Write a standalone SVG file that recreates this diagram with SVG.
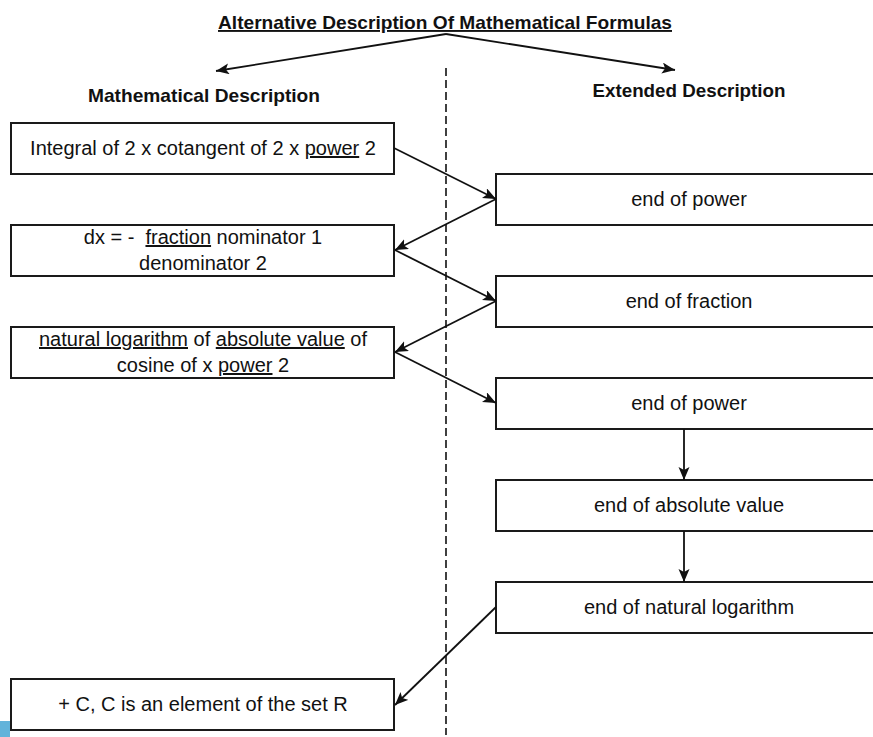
<svg xmlns="http://www.w3.org/2000/svg" width="873" height="737" viewBox="0 0 873 737">
  <style>
    .box { fill: #ffffff; stroke: #1a1a1a; stroke-width: 2; }
    .t { font-family: "Liberation Sans", Arial, sans-serif; font-size: 20px; fill: #111111; text-anchor: middle; }
    .h { font-family: "Liberation Sans", Arial, sans-serif; font-size: 19px; font-weight: bold; fill: #111111; text-anchor: middle; }
    .u { text-decoration: underline; }
    .conn { stroke: #111111; stroke-width: 1.8; fill: none; marker-end: url(#arrow); }
    .divider { stroke: #111111; stroke-width: 1.6; stroke-dasharray: 8 4; fill: none; }
  </style>
  <defs>
    <marker id="arrow" markerUnits="userSpaceOnUse" markerWidth="14" markerHeight="12" refX="13" refY="5.5" orient="auto">
      <path d="M0,0 L13,5.5 L0,11 L3,5.5 z" fill="#111111"/>
    </marker>
  </defs>
  <rect x="0" y="0" width="873" height="737" fill="#ffffff"/>

  <g id="title">
    <text class="h u" x="445" y="29" textLength="454" lengthAdjust="spacingAndGlyphs">Alternative Description Of Mathematical Formulas</text>
  </g>
  <g id="heading-math">
    <text class="h" x="204" y="102" textLength="232" lengthAdjust="spacingAndGlyphs">Mathematical Description</text>
  </g>
  <g id="heading-extended">
    <text class="h" x="689" y="97" textLength="193" lengthAdjust="spacingAndGlyphs">Extended Description</text>
  </g>

  <line id="divider" class="divider" x1="446" y1="68" x2="446" y2="735"/>

  <g id="m1">
    <rect class="box" x="11" y="123" width="383" height="51"/>
    <text class="t" x="203" y="155">Integral of 2 x cotangent of 2 x <tspan class="u">power</tspan> 2</text>
  </g>
  <g id="m2">
    <rect class="box" x="11" y="225" width="383" height="51"/>
    <text class="t" x="203" y="244" xml:space="preserve">dx = -  <tspan class="u">fraction</tspan> nominator 1</text>
    <text class="t" x="203" y="270">denominator 2</text>
  </g>
  <g id="m3">
    <rect class="box" x="11" y="327" width="383" height="51"/>
    <text class="t" x="203" y="346"><tspan class="u">natural logarithm</tspan> of <tspan class="u">absolute value</tspan> of</text>
    <text class="t" x="203" y="372">cosine of x <tspan class="u">power</tspan> 2</text>
  </g>
  <g id="m4">
    <rect class="box" x="11" y="679" width="383" height="51"/>
    <text class="t" x="203" y="711">+ C, C is an element of the set R</text>
  </g>

  <g id="e1">
    <rect class="box" x="496" y="174" width="390" height="51"/>
    <text class="t" x="689" y="206">end of power</text>
  </g>
  <g id="e2">
    <rect class="box" x="496" y="276" width="390" height="51"/>
    <text class="t" x="689" y="308">end of fraction</text>
  </g>
  <g id="e3">
    <rect class="box" x="496" y="378" width="390" height="51"/>
    <text class="t" x="689" y="410">end of power</text>
  </g>
  <g id="e4">
    <rect class="box" x="496" y="480" width="390" height="51"/>
    <text class="t" x="689" y="512">end of absolute value</text>
  </g>
  <g id="e5">
    <rect class="box" x="496" y="582" width="390" height="51"/>
    <text class="t" x="689" y="614">end of natural logarithm</text>
  </g>

  <g id="connectors">
    <line class="conn" x1="446" y1="34" x2="216" y2="71"/>
    <line class="conn" x1="446" y1="34" x2="675" y2="70"/>
    <line class="conn" x1="394" y1="148" x2="496" y2="199"/>
    <line class="conn" x1="496" y1="199" x2="395" y2="250"/>
    <line class="conn" x1="395" y1="250" x2="496" y2="301"/>
    <line class="conn" x1="496" y1="301" x2="395" y2="352"/>
    <line class="conn" x1="395" y1="352" x2="496" y2="403"/>
    <line class="conn" x1="684" y1="429" x2="684" y2="480"/>
    <line class="conn" x1="684" y1="531" x2="684" y2="582"/>
    <line class="conn" x1="496" y1="607" x2="395" y2="705"/>
  </g>

  <rect x="0" y="721" width="10" height="16" fill="#62b3da"/>
</svg>
